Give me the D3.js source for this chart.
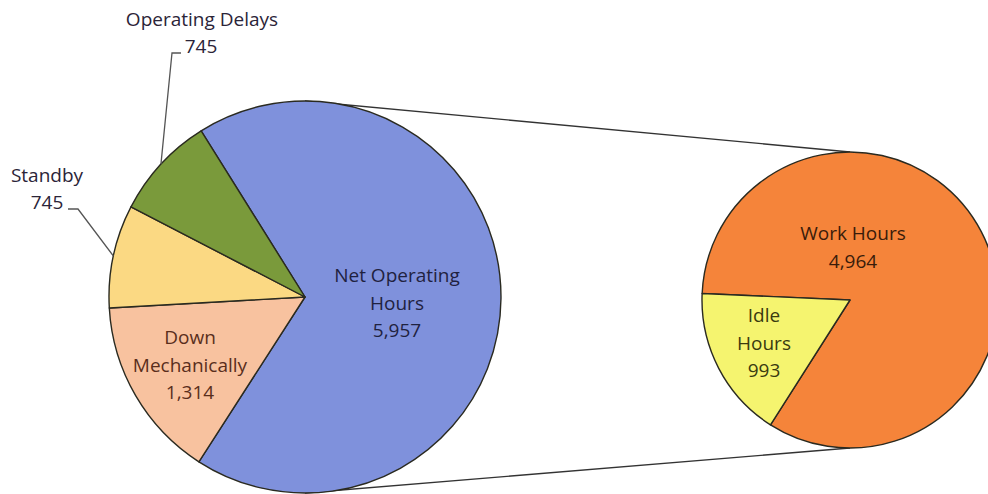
<!DOCTYPE html>
<html>
<head>
<meta charset="utf-8">
<script src="https://cdn.jsdelivr.net/npm/d3@7"></script>
<style>
  html, body { margin: 0; padding: 0; background: #fff; }
  svg { display: block; }
  text { font-family: "Open Sans", Lato, sans-serif; font-weight: 500; }
</style>
</head>
<body>
<svg id="chart" width="988" height="494"></svg>
<script>
// Annual equipment hours, main breakdown
const mainCategories = ["Net Operating Hours", "Down Mechanically", "Standby", "Operating Delays"];
const mainValues = [5957, 1314, 745, 745];
const mainLines = [["Net Operating", "Hours"], ["Down", "Mechanically"], ["Standby"], ["Operating Delays"]];
const mainColors = ["#7f91dc", "#f8c29f", "#fbd983", "#7a9a3b"];

// Split of net operating hours
const subCategories = ["Work Hours", "Idle Hours"];
const subValues = [4964, 993];
const subLines = [["Work Hours"], ["Idle", "Hours"]];
const subColors = ["#f5843a", "#f5f46f"];

const fmt = d3.format(",");
const svg = d3.select("#chart");
const deg = Math.PI / 180;

const main = { cx: 305, cy: 297, r: 196, start: -32 * deg };
const sub = { cx: 850, cy: 300, r: 148, start: -87.5 * deg };

function pieData(values, start) {
  return d3.pie().sort(null).startAngle(start).endAngle(start + 2 * Math.PI)(values);
}

// Connector lines between the two pies
svg.append("g")
  .attr("stroke", "#333")
  .attr("stroke-width", 1.3)
  .selectAll("line")
  .data([-1, 1])
  .join("line")
  .attr("x1", main.cx).attr("y1", s => main.cy + s * main.r)
  .attr("x2", sub.cx).attr("y2", s => sub.cy + s * sub.r);

function drawPie(cfg, values, colors) {
  const arcs = pieData(values, cfg.start);
  const arc = d3.arc().innerRadius(0).outerRadius(cfg.r);
  svg.append("g")
    .attr("transform", `translate(${cfg.cx},${cfg.cy})`)
    .selectAll("path")
    .data(arcs)
    .join("path")
    .attr("d", arc)
    .attr("fill", (d, i) => colors[i])
    .attr("stroke", "#2a2a20")
    .attr("stroke-width", 1.4)
    .attr("stroke-linejoin", "round");
  return arcs;
}

const mainArcs = drawPie(main, mainValues, mainColors);
const subArcs = drawPie(sub, subValues, subColors);

const fs = 19;

function labelBlock(x, y, lines, value, color, gap) {
  const t = svg.append("text")
    .attr("text-anchor", "middle")
    .attr("fill", color)
    .attr("font-size", fs);
  [...lines, fmt(value)].forEach((s, k) => {
    t.append("tspan").attr("x", x).attr("y", y + k * gap).text(s);
  });
}

const ink = "#2b2438";

// Labels inside slices
labelBlock(397, 282, mainLines[0], mainValues[0], "#1f2240", 27.5);
labelBlock(190, 344, mainLines[1], mainValues[1], "#5a2e1c", 27.5);
labelBlock(853, 240, subLines[0], subValues[0], "#3a1c0a", 27.5);
labelBlock(764, 322, subLines[1], subValues[1], "#3a3a10", 27.5);

// Outside labels with leader lines
labelBlock(47, 182, mainLines[2], mainValues[2], ink, 27);
svg.append("text")
  .attr("x", 202).attr("y", 26)
  .attr("text-anchor", "middle").attr("fill", ink).attr("font-size", fs)
  .text(mainLines[3][0]);
svg.append("text")
  .attr("x", 201).attr("y", 53)
  .attr("text-anchor", "middle").attr("fill", ink).attr("font-size", fs)
  .text(fmt(mainValues[3]));

function edgePoint(cfg, a) {
  const m = (a.startAngle + a.endAngle) / 2;
  return [cfg.cx + Math.sin(m) * cfg.r, cfg.cy - Math.cos(m) * cfg.r];
}

const opPt = edgePoint(main, mainArcs[3]);
const sbPt = edgePoint(main, mainArcs[2]);
const leader = svg.append("g").attr("fill", "none").attr("stroke", "#555").attr("stroke-width", 1.3);
leader.append("polyline").attr("points", [[181, 53], [172, 53], opPt].join(" "));
leader.append("polyline").attr("points", [[68, 209], [78, 209], sbPt].join(" "));
</script>
</body>
</html>
